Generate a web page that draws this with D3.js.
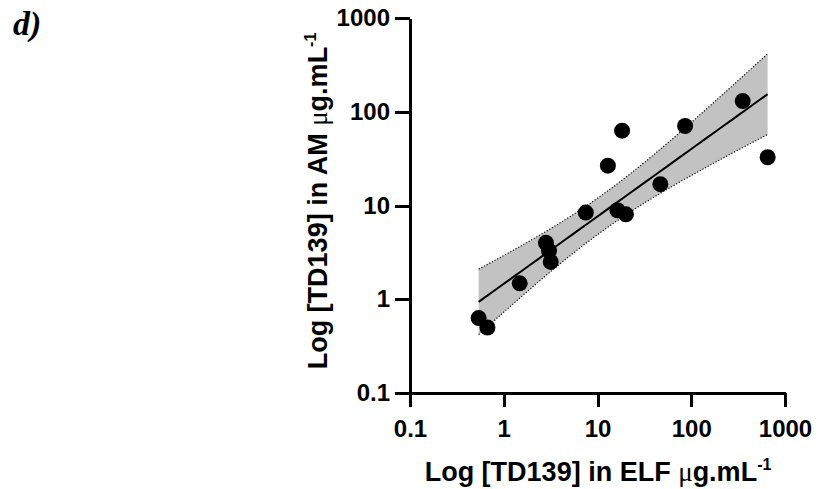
<!DOCTYPE html>
<html>
<head>
<meta charset="UTF-8">
<script src="https://cdn.jsdelivr.net/npm/d3@7"></script>
<style>
    body { margin: 0; background: #fff; }
    .axis path, .axis line { stroke: #000; stroke-width: 3; fill: none; shape-rendering: crispEdges; }
    .axis text { font-family: "Liberation Sans", Arial, sans-serif; font-weight: bold; font-size: 24px; fill: #000; }
    .title { font-family: "Liberation Sans", Arial, sans-serif; font-weight: bold; font-size: 27px; }
    .mu { font-family: "Liberation Serif", serif; font-weight: normal; }
</style>
</head>
<body>
<div id="chart"></div>
<script>
// [TD139] in ELF (x) and in AM (y), ug/mL
var elfValues = [0.54, 0.67, 1.48, 2.82, 3.04, 3.17, 7.5, 12.9, 16.3, 18.3, 20.1, 46.8, 86, 354, 653];
var amValues  = [0.63, 0.50, 1.48, 4.0, 3.3, 2.5, 8.4, 26.6, 8.9, 62.8, 8.05, 16.9, 70.5, 130, 32.7];
var tickValues = [0.1, 1, 10, 100, 1000];
var tickLabels = ["0.1", "1", "10", "100", "1000"];

var width = 820, height = 489;

var svg = d3.select("#chart").append("svg")
    .attr("width", width)
    .attr("height", height);

// log-log axes, same px per decade on both
var x = d3.scaleLog().domain([0.1, 1000]).range([410, 785]);
var y = d3.scaleLog().domain([0.1, 1000]).range([393, 18]);

// linear regression on log10 values, with 95% confidence band
var lx = elfValues.map(Math.log10), ly = amValues.map(Math.log10);
var n = lx.length;
var mx = d3.mean(lx), my = d3.mean(ly);
var sxx = d3.sum(lx, function (d) { return (d - mx) * (d - mx); });
var sxy = d3.sum(lx, function (d, i) { return (d - mx) * (ly[i] - my); });
var slope = sxy / sxx, icpt = my - slope * mx;
var sse = d3.sum(lx, function (d, i) { var r = ly[i] - (icpt + slope * d); return r * r; });
var s = Math.sqrt(sse / (n - 2));
var tCrit = 2.160; // t(0.975, 13 df)

var lo = d3.min(lx), hi = d3.max(lx);
var band = d3.range(0, 41).map(function (k) {
    var u = lo + (hi - lo) * k / 40;
    var fit = icpt + slope * u;
    var h = tCrit * s * Math.sqrt(1 / n + (u - mx) * (u - mx) / sxx);
    return { u: u, fit: fit, low: fit - h, high: fit + h };
});

var px = function (u) { return x(Math.pow(10, u)); };
var py = function (v) { return y(Math.pow(10, v)); };

svg.append("path")
    .datum(band)
    .attr("fill", "#c2c2c2")
    .attr("stroke", "none")
    .attr("d", d3.area()
        .x(function (d) { return px(d.u); })
        .y0(function (d) { return py(d.low); })
        .y1(function (d) { return py(d.high); }));

["low", "high"].forEach(function (k) {
    svg.append("path")
        .datum(band)
        .attr("fill", "none")
        .attr("stroke", "#000")
        .attr("stroke-width", 1.2)
        .attr("stroke-dasharray", "1.2,1.8")
        .attr("d", d3.line()
            .x(function (d) { return px(d.u); })
            .y(function (d) { return py(d[k]); }));
});

svg.append("path")
    .datum(band)
    .attr("fill", "none")
    .attr("stroke", "#000")
    .attr("stroke-width", 2)
    .attr("d", d3.line()
        .x(function (d) { return px(d.u); })
        .y(function (d) { return py(d.fit); }));

// points
svg.append("g").selectAll("circle")
    .data(elfValues)
    .enter().append("circle")
    .attr("cx", function (d) { return x(d); })
    .attr("cy", function (d, i) { return y(amValues[i]); })
    .attr("r", 8)
    .attr("fill", "#000");

// axes
var fmt = function (d) { return tickLabels[tickValues.indexOf(d)]; };

svg.append("g")
    .attr("class", "x axis")
    .attr("transform", "translate(0,393)")
    .call(d3.axisBottom(x).tickValues(tickValues).tickFormat(fmt).tickSize(14).tickSizeOuter(0).tickPadding(13));

svg.append("g")
    .attr("class", "y axis")
    .attr("transform", "translate(410,0)")
    .call(d3.axisLeft(y).tickValues(tickValues).tickFormat(fmt).tickSize(15).tickSizeOuter(0).tickPadding(5));

// axis titles
var xt = svg.append("text")
    .attr("class", "title")
    .attr("x", 598)
    .attr("y", 481)
    .attr("text-anchor", "middle");
xt.append("tspan").text("Log [TD139] in ELF ");
xt.append("tspan").attr("class", "mu").text("μ");
xt.append("tspan").text("g.mL");
xt.append("tspan").attr("dy", -11).attr("font-size", 16).text("-1");

var yt = svg.append("text")
    .attr("class", "title")
    .attr("transform", "translate(327,201) rotate(-90)")
    .attr("text-anchor", "middle");
yt.append("tspan").text("Log [TD139] in AM ");
yt.append("tspan").attr("class", "mu").text("μ");
yt.append("tspan").text("g.mL");
yt.append("tspan").attr("dy", -11).attr("font-size", 16).text("-1");

// panel letter
svg.append("text")
    .attr("x", 13)
    .attr("y", 35)
    .attr("font-family", "'Liberation Serif', 'Times New Roman', serif")
    .attr("font-weight", "bold")
    .attr("font-style", "italic")
    .attr("font-size", 34)
    .text("d)");
</script>
</body>
</html>
